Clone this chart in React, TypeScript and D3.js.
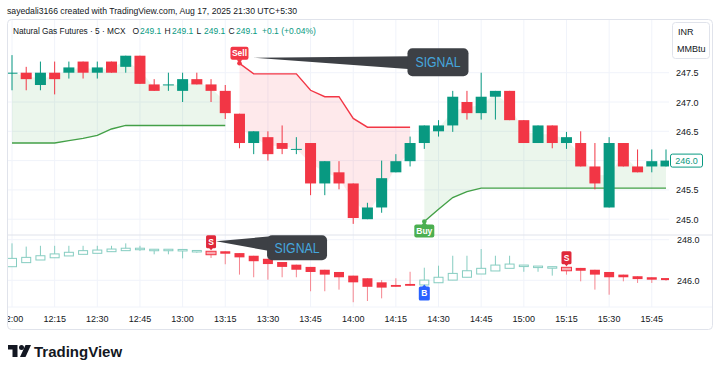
import React from "react";
import * as d3 from "d3";

// Natural Gas Futures, 5 min bars from 12:00
const opens = [247.5, 247.5, 247.29, 247.5, 247.5, 247.69, 247.5, 247.69, 247.6, 247.79, 247.3, 247.3, 247.19, 247.39, 247.3, 247.19, 246.8, 246.3, 246.4, 246.3, 246.2, 246.3, 245.61, 245.8, 245.61, 245.0, 245.2, 245.8, 245.99, 246.3, 246.5, 246.6, 247.0, 246.81, 247.09, 247.19, 246.69, 246.3, 246.6, 246.3, 246.3, 245.9, 245.2, 246.3, 245.9, 245.9, 245.9];
const highs = [247.8, 247.6, 247.69, 247.69, 247.69, 247.69, 247.69, 247.69, 247.79, 247.79, 247.39, 247.5, 247.5, 247.5, 247.39, 247.29, 246.8, 246.5, 246.5, 246.6, 246.4, 246.3, 245.99, 245.99, 245.61, 245.28, 246.0, 246.11, 246.41, 246.6, 246.69, 247.19, 247.19, 247.5, 247.19, 247.19, 246.69, 246.6, 246.6, 246.49, 246.5, 246.3, 246.4, 246.3, 246.19, 246.19, 246.19];
const lows = [247.2, 247.2, 247.2, 247.13, 247.4, 247.4, 247.4, 247.5, 247.5, 247.31, 247.19, 247.19, 247.0, 247.3, 247.0, 246.71, 246.21, 246.11, 246.0, 246.11, 246.11, 245.41, 245.41, 245.51, 244.92, 245.0, 245.11, 245.8, 245.9, 246.2, 246.41, 246.49, 246.7, 246.7, 246.7, 246.69, 246.3, 246.3, 246.21, 246.2, 245.9, 245.51, 245.2, 245.9, 245.8, 245.8, 245.9];
const closes = [247.5, 247.39, 247.5, 247.39, 247.59, 247.5, 247.59, 247.5, 247.79, 247.31, 247.19, 247.3, 247.39, 247.3, 247.19, 246.81, 246.3, 246.5, 246.11, 246.2, 246.2, 245.61, 245.99, 245.61, 245.02, 245.2, 245.7, 245.99, 246.3, 246.6, 246.6, 247.09, 246.81, 247.09, 247.19, 246.69, 246.3, 246.6, 246.3, 246.4, 245.9, 245.61, 246.3, 245.9, 245.8, 245.99, 246.0];

// supertrend
const supertrend = [246.3, 246.3, 246.3, 246.3, 246.34, 246.38, 246.43, 246.54, 246.6, 246.6, 246.6, 246.6, 246.6, 246.6, 246.6, 246.6, 247.66, 247.48, 247.48, 247.48, 247.48, 247.2, 247.09, 247.09, 246.72, 246.57, 246.57, 246.57, 246.57, 244.96, 245.17, 245.37, 245.47, 245.53, 245.53, 245.53, 245.53, 245.53, 245.53, 245.53, 245.53, 245.53, 245.53, 245.53, 245.53, 245.53, 245.53];
const trendDir = [1, 1, 1, 1, 1, 1, 1, 1, 1, 1, 1, 1, 1, 1, 1, 1, -1, -1, -1, -1, -1, -1, -1, -1, -1, -1, -1, -1, -1, 1, 1, 1, 1, 1, 1, 1, 1, 1, 1, 1, 1, 1, 1, 1, 1, 1, 1];

// signal pane candles
const sigOpen = [246.67, 246.87, 247.0, 247.11, 247.2, 247.28, 247.33, 247.41, 247.46, 247.53, 247.52, 247.52, 247.5, 247.46, 247.43, 247.43, 247.34, 247.21, 247.06, 246.9, 246.77, 246.66, 246.52, 246.41, 246.23, 246.1, 245.9, 245.77, 245.82, 245.77, 245.88, 246.01, 246.15, 246.31, 246.46, 246.59, 246.74, 246.69, 246.66, 246.64, 246.61, 246.52, 246.41, 246.28, 246.2, 246.15, 246.11];
const sigHigh = [247.82, 247.66, 247.7, 247.7, 247.7, 247.7, 247.7, 247.7, 247.82, 247.7, 247.53, 247.53, 247.52, 247.47, 247.43, 247.43, 247.34, 247.21, 247.06, 246.9, 246.77, 246.66, 246.52, 246.41, 246.23, 246.1, 246.01, 246.1, 246.42, 246.62, 246.72, 247.21, 247.21, 247.54, 247.21, 247.21, 246.75, 246.7, 246.67, 246.64, 246.61, 246.52, 246.41, 246.28, 246.2, 246.15, 246.11];
const sigLow = [246.67, 246.87, 247.0, 247.11, 247.2, 247.28, 247.33, 247.41, 247.46, 247.45, 247.28, 247.28, 247.08, 247.36, 247.1, 246.79, 246.28, 246.15, 246.03, 246.15, 246.15, 245.46, 245.46, 245.54, 244.92, 244.98, 245.11, 245.68, 245.73, 245.77, 245.88, 246.01, 246.15, 246.31, 246.46, 246.59, 246.42, 246.42, 246.23, 246.28, 245.95, 245.54, 245.29, 245.95, 245.87, 245.87, 245.98];
const sigClose = [247.08, 247.13, 247.21, 247.3, 247.38, 247.46, 247.49, 247.54, 247.58, 247.58, 247.53, 247.53, 247.52, 247.47, 247.26, 247.31, 247.13, 246.94, 246.8, 246.66, 246.52, 246.41, 246.28, 246.15, 245.9, 245.68, 245.64, 245.68, 245.73, 246.01, 246.15, 246.34, 246.47, 246.59, 246.75, 246.8, 246.75, 246.7, 246.67, 246.47, 246.47, 246.28, 246.15, 246.15, 246.06, 246.03, 246.01];
const sellBars = [14, 39];
const buyBars = [29];

const priceTicks = [247.5, 247.0, 246.5, 246.0, 245.5, 245.0];
const sigTicks = [248.0, 246.0];

// legend: OHLC labels and values
const ohlcKeys = ["O", "H", "L", "C"];
const ohlcVals = ["249.1", "249.1", "249.1", "249.1"];

const TEAL = "#089981";
const RED = "#f23645";
const GREEN = "#43a047";
const TEXT = "#131722";
const GRID = "#f0f3fa";
const BORDER = "#e0e3eb";
const FONT = '"Liberation Sans", Arial, sans-serif';

const PL = 8, PR = 669;
const TOP0 = 20, TOP1 = 235, BOT1 = 307;

export default function App() {
  const t0 = new Date(2025, 7, 18, 12, 0);
  const times = opens.map((_, i) => d3.timeMinute.offset(t0, i * 5));
  const x = d3.scaleTime().domain([times[0], times[times.length - 1]]).range([12, 666]);
  const xi = (i: number) => x(times[i]);
  const yTop = d3.scaleLinear().domain([245, 247.5]).range([219.2, 72.7]);
  const yBot = d3.scaleLinear().domain([246, 248]).range([280.3, 239.7]);
  const idx = d3.range(opens.length);
  const fmt = d3.timeFormat("%H:%M");
  const ticks = x.ticks(d3.timeMinute.every(15) as any);

  // trend runs
  const runs: { dir: number; from: number; to: number }[] = [];
  trendDir.forEach((d, i) => {
    const last = runs[runs.length - 1];
    if (last && last.dir === d) last.to = i;
    else runs.push({ dir: d, from: i, to: i });
  });

  const area = d3.area<number>()
    .x(xi)
    .y0(i => yTop(supertrend[i]))
    .y1(i => yTop((opens[i] + closes[i]) / 2));
  const line = d3.line<number>().x(xi).y(i => yTop(supertrend[i]));

  const bw = 11;
  const sbw = 10;
  const last = closes[closes.length - 1];

  // signal anchors
  const sellRun = runs.find((r, k) => k > 0 && r.dir === -1)!;
  const buyRun = runs.find((r, k) => k > 0 && r.dir === 1)!;
  const sx = xi(sellRun.from), sy = yTop(supertrend[sellRun.from]);
  const bx = xi(buyRun.from), by = yTop(supertrend[buyRun.from]);
  const ls = sellBars[0];
  const lsx = xi(ls), lsy = yBot(sigHigh[ls]) - 3;

  return (
    <svg width={720} height={373} style={{ position: "absolute", left: 0, top: 0, fontFamily: FONT }}>
      <defs>
        <clipPath id="topClip"><rect x={PL} y={TOP0} width={PR - PL} height={TOP1 - TOP0} /></clipPath>
        <clipPath id="botClip"><rect x={PL} y={TOP1} width={PR - PL} height={BOT1 - TOP1} /></clipPath>
        <clipPath id="axClip"><rect x={PL} y={BOT1} width={PR - PL} height={25} /></clipPath>
      </defs>
      <rect width={720} height={373} fill="#fff" />
      <text x={7} y={14} fontSize={9.5} fill={TEXT} textLength={290} lengthAdjust="spacingAndGlyphs">
        sayedali3166 created with TradingView.com, Aug 17, 2025 21:30 UTC+5:30
      </text>
      <rect x={7.5} y={19.5} width={705} height={310} rx={4} fill="#fff" stroke={BORDER} />

      {/* grid */}
      {ticks.map((t, k) => (
        <line key={"vg" + k} x1={x(t)} x2={x(t)} y1={TOP0} y2={BOT1} stroke={GRID} />
      ))}
      {priceTicks.map(p => (
        <line key={"hg" + p} x1={PL} x2={PR} y1={yTop(p)} y2={yTop(p)} stroke={GRID} />
      ))}
      {sigTicks.map(p => (
        <line key={"hs" + p} x1={PL} x2={PR} y1={yBot(p)} y2={yBot(p)} stroke={GRID} />
      ))}
      <line x1={PL} x2={712} y1={TOP1} y2={TOP1} stroke={BORDER} />
      <line x1={PL} x2={712} y1={BOT1} y2={BOT1} stroke={GRID} />

      {/* top pane */}
      <g clipPath="url(#topClip)">
        {runs.map((r, k) => {
          const ii = d3.range(r.from, r.to + 1);
          return (
            <g key={"run" + k}>
              <path d={area(ii)!} fill={r.dir > 0 ? "rgba(76,175,80,0.11)" : "rgba(242,54,69,0.11)"} />
              <path d={line(ii)!} fill="none" stroke={r.dir > 0 ? GREEN : RED} strokeWidth={1.4} />
            </g>
          );
        })}
        {idx.map(i => {
          const up = closes[i] >= opens[i];
          const c = up ? TEAL : RED;
          const yo = yTop(opens[i]), yc = yTop(closes[i]);
          return (
            <g key={"c" + i}>
              <line x1={xi(i)} x2={xi(i)} y1={yTop(highs[i])} y2={yTop(lows[i])} stroke={c} />
              <rect x={xi(i) - bw / 2} y={Math.min(yo, yc)} width={bw} height={Math.max(1, Math.abs(yo - yc))} fill={c} />
            </g>
          );
        })}
      </g>

      {/* bottom pane */}
      <g clipPath="url(#botClip)">
        {idx.map(i => {
          const up = sigClose[i] >= sigOpen[i];
          const yo = yBot(sigOpen[i]), yc = yBot(sigClose[i]);
          const top = Math.min(yo, yc), h = Math.max(1.5, Math.abs(yo - yc));
          const isSig = sellBars.includes(i);
          return (
            <g key={"s" + i}>
              <line x1={xi(i)} x2={xi(i)} y1={yBot(sigHigh[i])} y2={yBot(sigLow[i])} stroke={up ? "#86cdc1" : "#f5858f"} />
              {up ? (
                <rect x={xi(i) - sbw / 2 + 0.5} y={top} width={sbw - 1} height={h} fill="#fff" stroke="#86cdc1" />
              ) : (
                <rect x={xi(i) - sbw / 2} y={top} width={sbw} height={h} fill={isSig ? "#f9a9b0" : RED} stroke={isSig ? RED : "none"} />
              )}
            </g>
          );
        })}
      </g>

      {/* supertrend labels */}
      <circle cx={sx} cy={sy} r={2.3} fill={RED} />
      <path d={`M${sx - 3},${sy - 4} L${sx},${sy} L${sx + 3},${sy - 4} Z`} fill={RED} />
      <rect x={sx - 9} y={sy - 16.5} width={18} height={13} rx={2} fill={RED} />
      <text x={sx} y={sy - 7} fontSize={8.5} fontWeight="bold" fill="#fff" textAnchor="middle">Sell</text>

      <circle cx={bx} cy={by} r={2.3} fill="#4caf50" />
      <path d={`M${bx - 3},${by + 4} L${bx},${by} L${bx + 3},${by + 4} Z`} fill="#4caf50" />
      <rect x={bx - 10} y={by + 3} width={20} height={13} rx={2} fill="#4caf50" />
      <text x={bx} y={by + 12.5} fontSize={8.5} fontWeight="bold" fill="#fff" textAnchor="middle">Buy</text>

      {/* signal pane labels */}
      {sellBars.map(i => {
        const cx = xi(i), b = yBot(sigHigh[i]) - 3;
        return (
          <g key={"S" + i}>
            <path d={`M${cx - 2.5},${b - 1} L${cx},${b + 2} L${cx + 2.5},${b - 1} Z`} fill="#e0283a" />
            <rect x={cx - 5} y={b - 13} width={10} height={13} rx={1.5} fill="#e0283a" />
            <text x={cx} y={b - 3.5} fontSize={8.5} fontWeight="bold" fill="#fff" textAnchor="middle">S</text>
          </g>
        );
      })}
      {buyBars.map(i => {
        const cx = xi(i), t = yBot(sigLow[i]) + 1.5;
        return (
          <g key={"B" + i}>
            <path d={`M${cx - 2.5},${t + 1} L${cx},${t - 2} L${cx + 2.5},${t + 1} Z`} fill="#2962ff" />
            <rect x={cx - 5.5} y={t} width={11} height={14} rx={1.5} fill="#2962ff" />
            <text x={cx} y={t + 10} fontSize={8.5} fontWeight="bold" fill="#fff" textAnchor="middle">B</text>
          </g>
        );
      })}

      {/* callouts */}
      <path d={`M${sx + 14},${sy - 5.5} L${sx + 172},${sy - 7} L${sx + 172},${sy + 6} Z`} fill="#3d4045" />
      <rect x={sx + 168} y={sy - 15} width={61} height={28} rx={5} fill="#3d4045" />
      <text x={sx + 198.5} y={sy + 4} fontSize={14} fill="#45a6dc" textAnchor="middle" textLength={45} lengthAdjust="spacingAndGlyphs">SIGNAL</text>

      <path d={`M${lsx + 5},${lsy - 7} L${lsx + 60},${lsy - 12} L${lsx + 60},${lsy + 3} Z`} fill="#3d4045" />
      <rect x={lsx + 56} y={lsy - 13} width={60} height={25} rx={5} fill="#3d4045" />
      <text x={lsx + 86} y={lsy + 5} fontSize={14} fill="#45a6dc" textAnchor="middle" textLength={45} lengthAdjust="spacingAndGlyphs">SIGNAL</text>

      {/* legend */}
      <g fontSize={8.5} fill={TEXT}>
        <text x={13} y={34} fontSize={8.3}>Natural Gas Futures · 5 · MCX</text>
        {ohlcKeys.map((k, j) => (
          <g key={"lg" + k}>
            <text x={132.5 + j * 32} y={34}>{k}</text>
            <text x={140 + j * 32} y={34} fill={TEAL}>{ohlcVals[j]}</text>
          </g>
        ))}
        <text x={262} y={34} fill={TEAL}>+0.1 (+0.04%)</text>
      </g>

      {/* price axis */}
      <rect x={672.5} y={22.5} width={37} height={36} rx={3} fill="#fff" stroke={BORDER} />
      <text x={678} y={35} fontSize={9} fill={TEXT}>INR</text>
      <text x={677} y={52} fontSize={9} fill={TEXT}>MMBtu</text>
      {priceTicks.map(p => (
        <text key={"pt" + p} x={676} y={yTop(p) + 3.5} fontSize={9} fill={TEXT}>{p.toFixed(1)}</text>
      ))}
      {sigTicks.map(p => (
        <text key={"st" + p} x={677} y={yBot(p) + 3.5} fontSize={9} fill={TEXT}>{p.toFixed(1)}</text>
      ))}
      <rect x={670.5} y={yTop(last) - 6.5} width={32} height={13} rx={2} fill="#fff" stroke={TEAL} />
      <text x={686.5} y={yTop(last) + 3.5} fontSize={9} fill={TEAL} textAnchor="middle">{last.toFixed(1)}</text>

      {/* time axis */}
      <g clipPath="url(#axClip)">
        {ticks.map((t, k) => (
          <text key={"tt" + k} x={x(t)} y={322} fontSize={9} fill={TEXT} textAnchor="middle">{fmt(t)}</text>
        ))}
      </g>

      {/* logo */}
      <g fill={TEXT}>
        <path d="M8,345 H17.5 V357 H12.5 V349.5 H8 Z" />
        <circle cx={21.5} cy={347.5} r={2.5} />
        <path d="M25.5,345 H31 L25.5,357 H20 Z" />
        <text x={34} y={357} fontSize={15} fontWeight="bold">TradingView</text>
      </g>
    </svg>
  );
}
